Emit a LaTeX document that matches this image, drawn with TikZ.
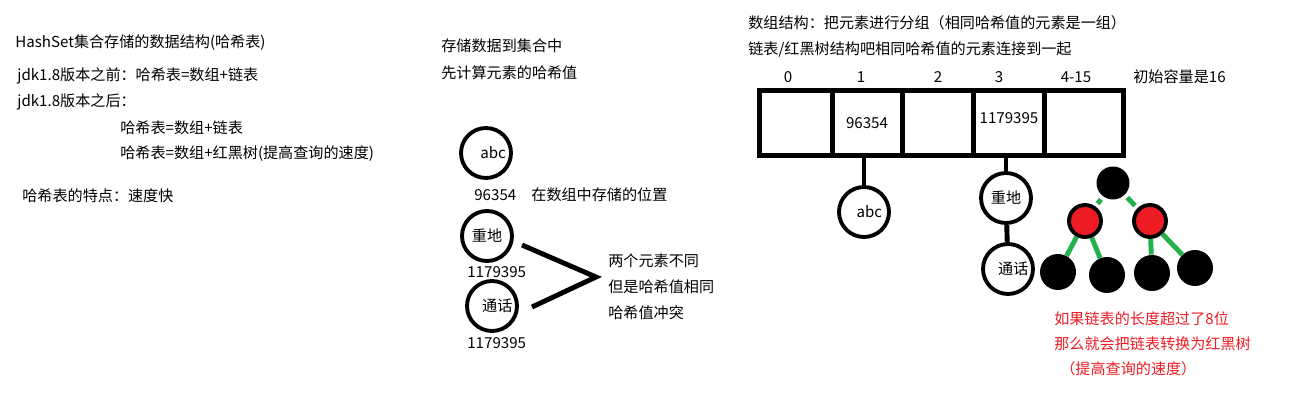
\documentclass[tikz,border=0pt]{standalone}
\usepackage{fontspec}
\setmainfont{Noto Sans CJK SC}
\usepackage{xcolor}
\usetikzlibrary{positioning}
\definecolor{hashred}{HTML}{ED1C24}
\definecolor{hashgreen}{HTML}{22B14C}

\begin{document}
\begin{tikzpicture}[
    x=0.02cm, y=-0.02cm,
    txt/.style={anchor=west, inner sep=0pt, font=\fontsize{8.6}{10}\selectfont},
    elem/.style={circle, draw, line width=2.2pt, minimum size=1cm, inner sep=0pt, font=\fontsize{8.6}{10}\selectfont},
    cell/.style={draw, line width=2.8pt, minimum width=1.4cm, minimum height=1.3cm, inner sep=0pt, font=\fontsize{8.6}{10}\selectfont},
    blacknode/.style={circle, fill=black, minimum size=0.72cm, inner sep=0pt},
    rednode/.style={circle, fill=hashred, draw=black, line width=2.2pt, minimum size=0.64cm, inner sep=0pt},
    treeedge/.style={hashgreen, line width=2.8pt},
    link/.style={line width=2.8pt},
]
    \useasboundingbox (0,0) rectangle (1296,412);

    % Left notes
    \node[txt] (title) at (15,43) {HashSet集合存储的数据结构(哈希表)};
    \node[txt] (before) at (17,76) {jdk1.8版本之前：哈希表=数组+链表};
    \node[txt] (after) at (17,102) {jdk1.8版本之后：};
    \node[txt] (afterA) at (120,128) {哈希表=数组+链表};
    \node[txt] (afterB) at (120,154) {哈希表=数组+红黑树(提高查询的速度)};
    \node[txt] (feature) at (22,196) {哈希表的特点：速度快};

    % Middle: hash values
    \node[txt] (store) at (441,46) {存储数据到集合中};
    \node[txt] (calc) at (441,73) {先计算元素的哈希值};
    \node[elem] (abcA) at (486,153) {\hspace{8pt}abc};
    \node[txt] (hashAbc) at (474,195) {96354\quad 在数组中存储的位置};
    \node[elem] (zdA) at (487,236) {重地};
    \node[txt] (hashZd) at (467,272) {1179395};
    \node[elem] (thA) at (492,306) {\hspace{6pt}通话};
    \node[txt] (hashTh) at (467,343) {1179395};
    \coordinate (meet) at (596,277);
    \draw[link] (522,245) -- (meet) -- (532,307);
    \node[txt] (clashA) at (608,261) {两个元素不同};
    \node[txt] (clashB) at (608,287) {但是哈希值相同};
    \node[txt] (clashC) at (608,313) {哈希值冲突};

    % Right: array of buckets
    \node[txt] (arrA) at (748,23) {数组结构：把元素进行分组（相同哈希值的元素是一组）};
    \node[txt] (arrB) at (748,49) {链表/红黑树结构吧相同哈希值的元素连接到一起};
    \node[cell, minimum width=1.46cm] (c0) at (796,123) {};
    \node[cell, minimum width=1.40cm] (c1) at (867,123) {96354};
    \node[cell, minimum width=1.42cm] (c2) at (938,123) {};
    \node[cell, minimum width=1.42cm] (c3) at (1009,123) {\raisebox{6pt}{1179395}};
    \node[cell, minimum width=1.58cm] (c4) at (1084,123) {};
    \node[font=\fontsize{8.6}{10}\selectfont] at (788,77) {0};
    \node[font=\fontsize{8.6}{10}\selectfont] at (861,77) {1};
    \node[font=\fontsize{8.6}{10}\selectfont] at (938,77) {2};
    \node[font=\fontsize{8.6}{10}\selectfont] at (999,77) {3};
    \node[font=\fontsize{8.6}{10}\selectfont] at (1076,77) {4-15};
    \node[txt] (capacity) at (1133,77) {初始容量是16};

    % Linked list
    \node[elem] (abcB) at (864,212) {\hspace{6pt}abc};
    \node[elem] (zdB) at (1006,198) {重地};
    \node[elem] (thB) at (1008,269) {\hspace{6pt}通话};
    \draw[link] (abcB.north |- c1.south) -- (abcB);
    \draw[link] (zdB.north |- c3.south) -- (zdB);
    \draw[link] (zdB) -- (thB);

    % Red-black tree
    \node[blacknode, minimum size=0.66cm] (root) at (1113,183) {};
    \node[rednode] (redL) at (1085,221) {};
    \node[rednode] (redR) at (1150,221) {};
    \node[blacknode] (leafA) at (1058,272) {};
    \node[blacknode] (leafB) at (1107,275) {};
    \node[blacknode] (leafC) at (1152,273) {};
    \node[blacknode] (leafD) at (1195,268) {};
    \draw[treeedge, shorten <=2pt, shorten >=2pt] (root) -- (redL);
    \draw[treeedge, shorten <=2pt, shorten >=2pt] (root) -- (redR);
    \draw[treeedge] (redL) -- (leafA);
    \draw[treeedge] (redL) -- (leafB);
    \draw[treeedge] (redR) -- (leafC);
    \draw[treeedge] (redR) -- (leafD);

    % Note in red
    \node[txt, text=hashred] (noteA) at (1054,319) {如果链表的长度超过了8位};
    \node[txt, text=hashred] (noteB) at (1054,344) {那么就会把链表转换为红黑树};
    \node[txt, text=hashred] (noteC) at (1060,369) {（提高查询的速度）};
\end{tikzpicture}
\end{document}
